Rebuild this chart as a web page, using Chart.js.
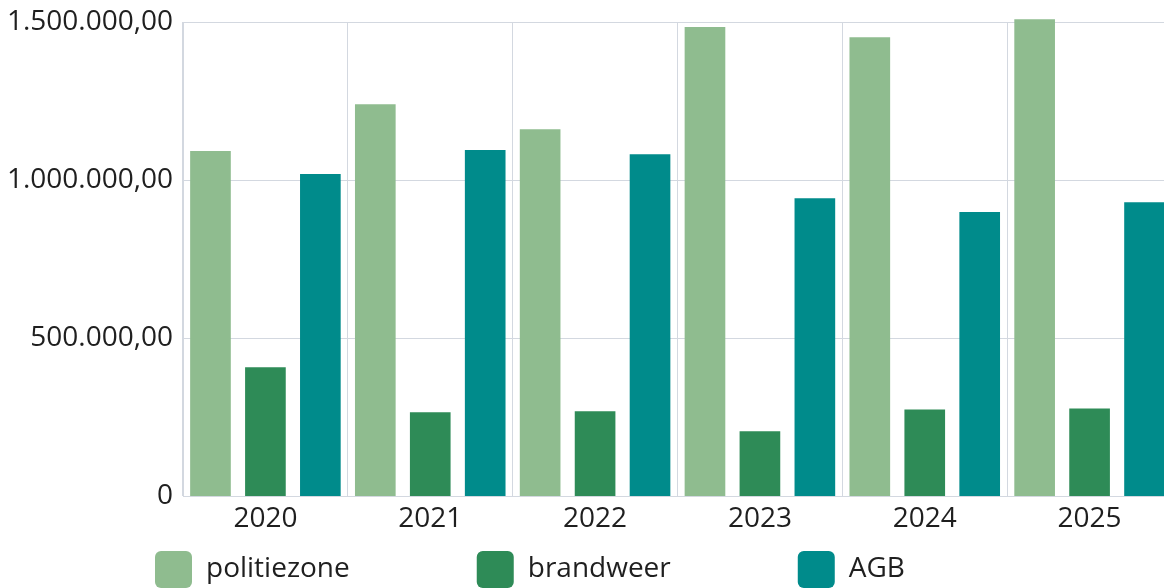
<!DOCTYPE html>
<html>
<head>
<meta charset="utf-8">
<script src="https://cdn.jsdelivr.net/npm/chart.js@4.4.1/dist/chart.umd.min.js"></script>
<style>
  html, body { margin: 0; padding: 0; background: #fff; overflow: hidden; }
  #wrap { width: 1172px; height: 600px; }
</style>
</head>
<body>
<div id="wrap"><canvas id="budget-chart"></canvas></div>
<script>
const years = ['2020', '2021', '2022', '2023', '2024', '2025'];
const politiezone = [1092000, 1240000, 1161000, 1484000, 1452000, 1509000];
const brandweer = [408000, 266000, 269000, 206000, 275000, 278000];
const agb = [1019000, 1095000, 1082000, 943000, 899000, 930000];

const yTicks = [0, 500000, 1000000, 1500000];

const gridColor = '#d3d8e0';
const fontFamily = '"Open Sans", "Noto Sans", sans-serif';

Chart.defaults.font.family = fontFamily;
Chart.defaults.color = '#1f1f1f';

function formatAmount(value) {
    if (value === 0) {
        return '0';
    }
    return value.toLocaleString('nl-BE', { minimumFractionDigits: 2, maximumFractionDigits: 2 });
}

// legend items need wide horizontal gaps but little vertical room
const legendSpread = {
    id: 'legendSpread',
    afterLayout(chart) {
        const legend = chart.legend;
        const pad = legend.options.labels.padding;
        legend.top = legend.top + 9 - pad;
        legend.left = 155 - pad;
    }
};

function barSet(label, data, color) {
    return {
        label,
        data,
        backgroundColor: color,
        borderColor: color,
        borderWidth: 0,
        barPercentage: 0.74,
        categoryPercentage: 1.0,
        clip: false
    };
}

const ctx = document.getElementById('budget-chart').getContext('2d');

const chart = new Chart(ctx, {
    type: 'bar',
    data: {
        labels: years,
        datasets: [
            barSet('politiezone', politiezone, '#8fbc8f'),
            barSet('brandweer', brandweer, '#2e8b57'),
            barSet('AGB', agb, '#008b8b')
        ]
    },
    options: {
        responsive: true,
        maintainAspectRatio: false,
        animation: false,
        layout: {
            padding: 0
        },
        scales: {
            x: {
                grid: { color: gridColor, drawTicks: false },
                border: { color: gridColor },
                ticks: { font: { size: 28 }, padding: 6 }
            },
            y: {
                min: 0,
                max: 1500000,
                afterBuildTicks(scale) {
                    scale.ticks = yTicks.map(v => ({ value: v }));
                },
                afterFit(scale) {
                    scale.width = 183;
                    scale.paddingTop = 22;
                },
                grid: { color: gridColor, drawTicks: false },
                border: { color: gridColor },
                ticks: {
                    font: { size: 28 },
                    padding: 10,
                    callback: value => formatAmount(value)
                }
            }
        },
        plugins: {
            legend: {
                position: 'bottom',
                align: 'start',
                maxHeight: 58,
                labels: {
                    font: { size: 28 },
                    boxWidth: 37,
                    boxHeight: 37,
                    useBorderRadius: true,
                    borderRadius: 6,
                    padding: 127
                }
            },
            tooltip: { enabled: false }
        }
    },
    plugins: [legendSpread]
});
</script>
</body>
</html>
